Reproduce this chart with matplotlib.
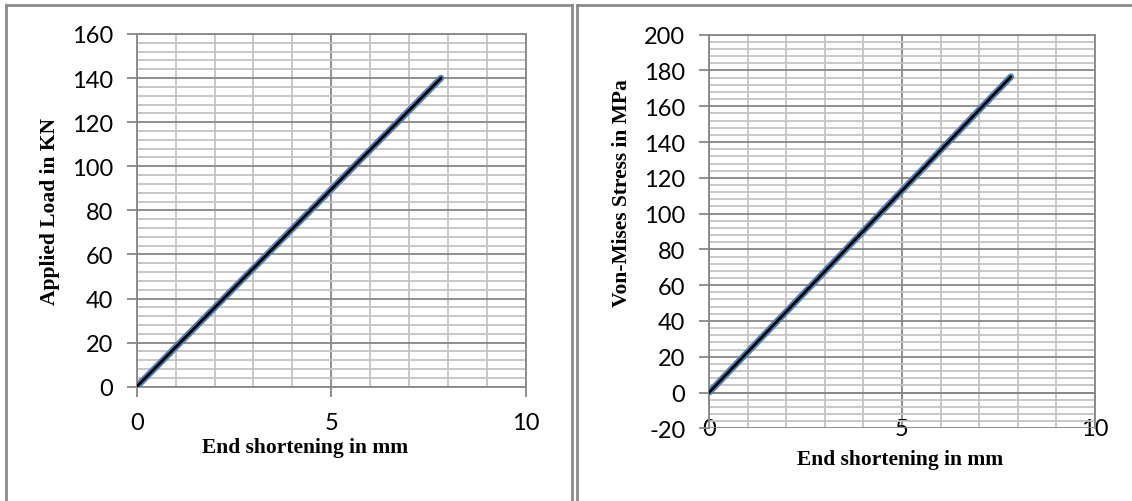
import matplotlib.pyplot as plt
from matplotlib.lines import Line2D
from matplotlib.ticker import MultipleLocator
import matplotlib.patheffects as pe

plt.rcParams['axes.unicode_minus'] = False

# Data
shortening = [0, 7.82]
applied_load = [0, 140]
von_mises = [0, 176.5]

x_ticks = [0, 5, 10]
load_ticks = list(range(0, 161, 20))
stress_ticks = list(range(-20, 201, 20))

MAJOR = '#878787'
MINOR = '#c4c4c4'
TICK_FONT = dict(family='Lato', size=17)
LABEL_FONT = dict(family='Liberation Serif', size=15.5, weight='bold')

fig = plt.figure(figsize=(11.32, 5.02), dpi=100)
W, H = 1132, 502


def fx(px):
    return px / W


def fy(py):
    return 1 - py / H


def style_axes(ax, xlim, ylim, yticks):
    ax.set_xlim(*xlim)
    ax.set_ylim(*ylim)
    ax.set_xticks(x_ticks)
    ax.set_yticks(yticks)
    ax.xaxis.set_minor_locator(MultipleLocator(1))
    ax.yaxis.set_minor_locator(MultipleLocator(4))
    ax.grid(True, which='major', color=MAJOR, linewidth=1.3)
    ax.grid(True, which='minor', color=MINOR, linewidth=1.3)
    ax.set_axisbelow(True)
    for s in ax.spines.values():
        s.set_color(MAJOR)
        s.set_linewidth(1.3)
    ax.spines['bottom'].set_position(('data', 0))
    ax.tick_params(which='major', direction='out', length=7, width=1.3,
                   color=MAJOR)
    ax.tick_params(which='minor', length=0)
    ax.tick_params(axis='y', pad=10)
    ax.tick_params(axis='x', pad=11)
    for lab in ax.get_xticklabels() + ax.get_yticklabels():
        lab.set_fontfamily(TICK_FONT['family'])
        lab.set_fontsize(TICK_FONT['size'])


def draw_line(ax, x, y):
    ax.plot(x, y, color='black', linewidth=2.0, solid_capstyle='round', zorder=5,
            path_effects=[pe.Stroke(linewidth=4.8, foreground='#4f81bd'), pe.Normal()])


# left panel: load vs shortening
ax1 = fig.add_axes([fx(136.7), fy(387.7), fx(525.8 - 136.7), (387.7 - 35) / H])
style_axes(ax1, (0, 10), (0, 160), load_ticks)
draw_line(ax1, shortening, applied_load)
fig.text(fx(304.7), fy(448), 'End shortening in mm', ha='center', va='center', **LABEL_FONT)
fig.text(fx(50), fy(211.7), 'Applied Load in KN', ha='center', va='center',
         rotation=90, **LABEL_FONT)

# right panel: stress vs shortening
ax2 = fig.add_axes([fx(709), fy(429.3), fx(1095 - 709), (429.3 - 35.7) / H])
style_axes(ax2, (0, 10), (-20, 200), stress_ticks)
draw_line(ax2, shortening, von_mises)
fig.text(fx(900), fy(460), 'End shortening in mm', ha='center', va='center', **LABEL_FONT)
fig.text(fx(622), fy(193), 'Von-Mises Stress in MPa', ha='center', va='center',
         rotation=90, **LABEL_FONT)

# frame lines round the two chart boxes
border = dict(color='#8a8a8a', linewidth=2, transform=fig.transFigure)
fig.add_artist(Line2D([fx(6), fx(6)], [0, fy(6)], **border))
fig.add_artist(Line2D([fx(6), fx(572)], [fy(6), fy(6)], **border))
fig.add_artist(Line2D([fx(572), fx(572)], [0, fy(6)], **border))
fig.add_artist(Line2D([fx(577), fx(577)], [0, fy(6)], **border))
fig.add_artist(Line2D([fx(577), 1], [fy(6), fy(6)], **border))

fig.savefig('out.png', dpi=100)
